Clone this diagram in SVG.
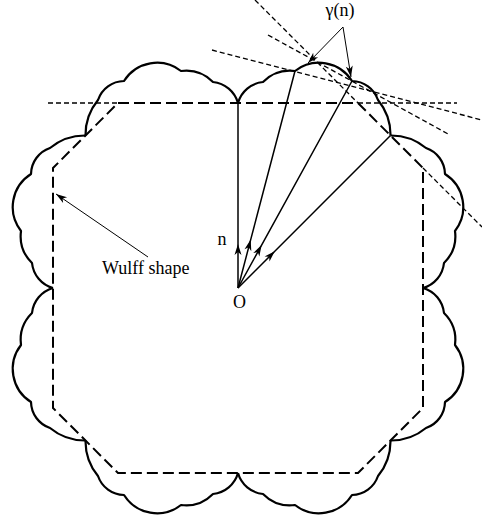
<svg xmlns="http://www.w3.org/2000/svg" width="482" height="520" viewBox="0 0 482 520">
<style>
.curve{fill:none;stroke:#000;stroke-width:2.2;stroke-linejoin:round}
.wulff{fill:none;stroke:#000;stroke-width:2;stroke-dasharray:11 5}
.tan{fill:none;stroke:#000;stroke-width:1.3;stroke-dasharray:5 3}
.ray{fill:none;stroke:#000;stroke-width:1.5;marker-mid:url(#ah)}
.ptr{fill:none;stroke:#000;stroke-width:1;marker-end:url(#ah)}
text{font-family:"Liberation Serif","Times New Roman",serif;font-size:18px;fill:#000}
</style>
<defs>
<marker id="ah" viewBox="-12 -5 13 10" refX="0" refY="0" markerWidth="13" markerHeight="10" markerUnits="userSpaceOnUse" orient="auto"><path d="M0,0 L-11,-3.5 L-8,0 L-11,3.5 Z" fill="#000"/></marker>
<path id="lobe" d="M0,-185 A29,29 0 0 1 25,-206 A38,38 0 0 1 57,-217 A39,39 0 0 1 114,-207 A28,28 0 0 1 140,-188 A55,55 0 0 1 152.5,-152.5"/>
</defs>
<rect width="482" height="520" fill="#fff"/>
<g id="gamma-plot" transform="translate(238,288)">
<use href="#lobe" class="curve"/>
<use href="#lobe" class="curve" transform="scale(-1,1)"/>
<use href="#lobe" class="curve" transform="scale(1,-1)"/>
<use href="#lobe" class="curve" transform="scale(-1,-1)"/>
<use href="#lobe" class="curve" transform="matrix(0,-1,-1,0,0,0)"/>
<use href="#lobe" class="curve" transform="matrix(0,1,-1,0,0,0)"/>
<use href="#lobe" class="curve" transform="matrix(0,-1,1,0,0,0)"/>
<use href="#lobe" class="curve" transform="matrix(0,1,1,0,0,0)"/>
</g>
<g id="wulff-shape">
<path class="wulff" d="M118,103 H358 L423,168 V408 L358,473 H118 L53,408 V168 Z"/>
</g>
<g id="tangent-planes">
<path class="tan" d="M48,103 H118"/>
<path class="tan" d="M358,103 H457"/>
<path class="tan" d="M255,0 L358,103"/>
<path class="tan" d="M423,168 L482,227"/>
<path class="tan" d="M212,50 L482,120"/>
<path class="tan" d="M268,35 L450,135"/>
</g>
<g id="connectors">
<path class="ray" d="M238,288 L238,244 L238,103"/>
<path class="ray" d="M238,288 L250.7,239.6 L295,71"/>
<path class="ray" d="M238,288 L261.6,245.1 L352,81"/>
<path class="ray" d="M238,288 L274.8,251.2 L390.5,135.5"/>
<path class="ptr" d="M343,27 L308,63"/>
<path class="ptr" d="M343,27 L351,77"/>
<path class="ptr" d="M148,257 L56,194"/>
</g>
<g id="label-gamma"><text x="340" y="16" text-anchor="middle">γ(n)</text></g>
<g id="label-n"><text x="222" y="245" text-anchor="middle">n</text></g>
<g id="label-O"><text x="239.5" y="308" text-anchor="middle">O</text></g>
<g id="label-wulff"><text x="102" y="274">Wulff shape</text></g>
</svg>
